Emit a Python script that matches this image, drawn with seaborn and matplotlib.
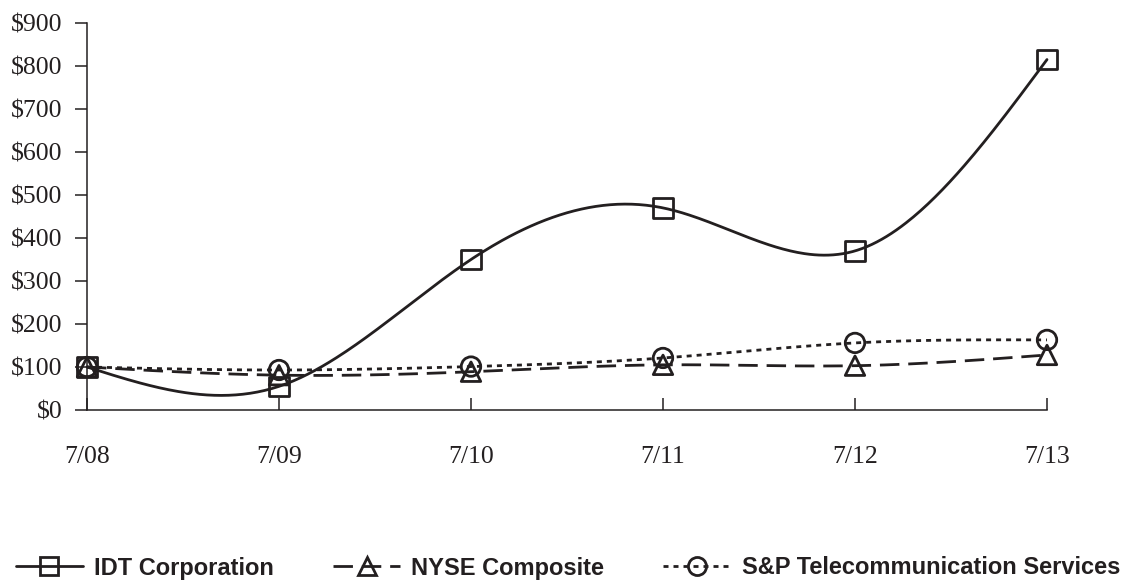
import numpy as np
import pandas as pd
import matplotlib
matplotlib.use("Agg")
import matplotlib.pyplot as plt
import seaborn as sns
from matplotlib.lines import Line2D
from matplotlib.font_manager import FontProperties

# ---- data ----
periods = ["7/08", "7/09", "7/10", "7/11", "7/12", "7/13"]
idt_values = [100, 55, 350, 470, 370, 815]
nyse_values = [100, 81, 89, 105, 103, 128]
snp_values = [100, 93, 101, 121, 156, 163]
series_names = ["IDT Corporation", "NYSE Composite", "S&P Telecommunication Services"]
y_tick_values = [0, 100, 200, 300, 400, 500, 600, 700, 800, 900]

INK = "#231f20"


def natural_spline(yvals, n=80):
    """Natural cubic spline through equally spaced points (x = 0..N-1)."""
    y = np.asarray(yvals, dtype=float)
    N = len(y)
    A = np.zeros((N, N))
    b = np.zeros(N)
    A[0, 0] = 1
    A[-1, -1] = 1
    for i in range(1, N - 1):
        A[i, i - 1] = 1
        A[i, i] = 4
        A[i, i + 1] = 1
        b[i] = 6 * (y[i + 1] - 2 * y[i] + y[i - 1])
    M = np.linalg.solve(A, b)
    xs, ys = [], []
    for i in range(N - 1):
        t = np.linspace(0, 1, n, endpoint=(i == N - 2))
        s = (y[i] * (1 - t) + y[i + 1] * t
             + (M[i] * ((1 - t) ** 3 - (1 - t)) + M[i + 1] * (t ** 3 - t)) / 6)
        xs.append(i + t)
        ys.append(s)
    return np.concatenate(xs), np.concatenate(ys)


sns.set_theme(style="white")
plt.rcParams["font.family"] = ["Liberation Serif", "DejaVu Serif"]

fig = plt.figure(figsize=(11.29, 5.82), dpi=100)
ax = fig.add_axes([87 / 1129, 1 - 410 / 582, (1047 - 87) / 1129, (410 - 23) / 582])

styles = [
    dict(ls="-", marker="s", ms=14),
    dict(ls=(0, (7, 3.2)), marker="^", ms=14),
    dict(ls=(0, (1.8, 1.8)), marker="o", ms=14),
]
all_values = [idt_values, nyse_values, snp_values]
xpos = np.arange(len(periods))

for name, vals, st in zip(series_names, all_values, styles):
    xs, ys = natural_spline(vals)
    sns.lineplot(x=xs, y=ys, ax=ax, color=INK, lw=2.0, linestyle=st["ls"],
                 sort=False, estimator=None, legend=False, zorder=3, clip_on=False)
    pts = pd.DataFrame({"x": xpos, "y": vals})
    sns.scatterplot(data=pts, x="x", y="y", ax=ax, marker=st["marker"],
                    s=st["ms"] ** 2, facecolor="none", edgecolor=INK,
                    linewidth=2.0, legend=False, zorder=4, clip_on=False)

ax.set_xlim(0, 5)
ax.set_ylim(0, 900)
ax.set_xticks(xpos)
ax.set_xticklabels(periods)
ax.set_yticks(y_tick_values)
ax.set_yticklabels([f"${v}" for v in y_tick_values])
ax.set_xlabel("")
ax.set_ylabel("")

for side in ["top", "right"]:
    ax.spines[side].set_visible(False)
for side in ["left", "bottom"]:
    ax.spines[side].set_color(INK)
    ax.spines[side].set_linewidth(1.1)

ax.tick_params(axis="y", direction="out", length=8.6, width=1.1, color=INK,
               pad=9, labelsize=18.5, labelcolor=INK, left=True)
ax.tick_params(axis="x", direction="in", length=8.6, width=1.1, color=INK,
               pad=26, labelsize=18.5, labelcolor=INK, bottom=True)
for lab in ax.get_xticklabels() + ax.get_yticklabels():
    lab.set_fontfamily("Liberation Serif")

handles = [
    Line2D([], [], color=INK, lw=2.0, linestyle=st["ls"], marker=st["marker"],
           markersize=13, markerfacecolor="none", markeredgecolor=INK,
           markeredgewidth=2.0)
    for st in styles
]
fig.legend(handles, series_names, loc="center", bbox_to_anchor=(0.503, 1 - 568 / 582),
           ncol=3, frameon=False,
           prop=FontProperties(family="Liberation Sans", weight="bold", size=17),
           handlelength=2.85, handletextpad=0.47, columnspacing=2.5,
           borderaxespad=0, borderpad=0, labelcolor=INK)

fig.savefig("out.png", dpi=100, facecolor="white")
